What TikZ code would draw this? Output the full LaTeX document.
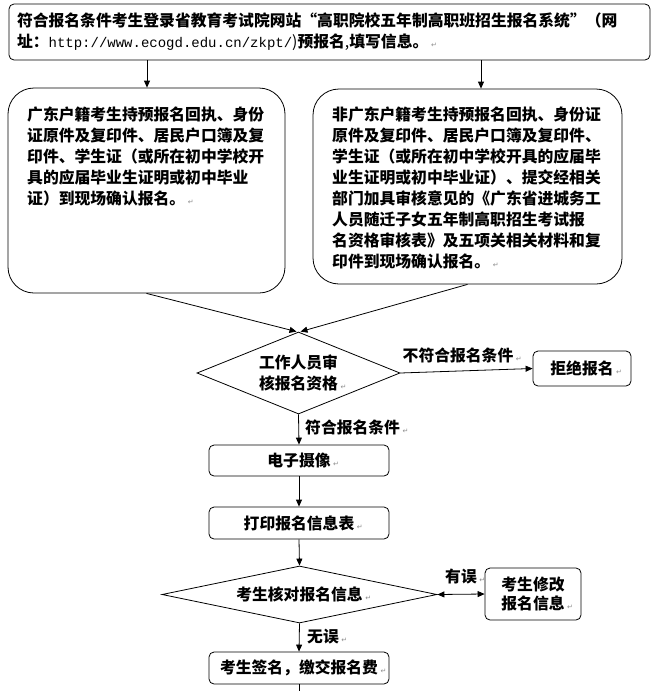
\documentclass[tikz,border=0pt]{standalone}
\usepackage{fontspec}
\setmainfont{Noto Sans CJK SC}
\newfontfamily\dejavu{DejaVu Sans}
\newfontfamily\urlfont{Liberation Mono}
\usetikzlibrary{arrows.meta,shapes.geometric}
\newcommand\parmk{\rlap{\,{\dejavu\mdseries\fontsize{7}{7}\selectfont\textcolor{black!45}{↵}}}}
\tikzset{
  every node/.style={font=\fontsize{15.8}{21}\selectfont\bfseries},
  box/.style={draw, line width=0.8pt, rounded corners=5pt, inner sep=0pt, align=center},
  bigbox/.style={draw, line width=0.8pt, rounded corners=26pt, inner sep=0pt},
  dia/.style={draw, diamond, line width=0.8pt, inner sep=0pt, align=left},
  arr/.style={line width=0.8pt, -{Triangle[length=7pt,width=6pt]}},
  arrboth/.style={line width=0.8pt, {Triangle[length=7pt,width=6pt]}-{Triangle[length=7pt,width=6pt]}},
  plain/.style={line width=0.8pt},
  lbl/.style={inner sep=0pt},
  txt/.style={align=left, inner sep=0pt}
}
\begin{document}
\begin{tikzpicture}[x=1pt,y=-1pt]
\useasboundingbox (0,0) rectangle (660,691);
% top box
\node[box, minimum width=641pt, minimum height=56pt, text width=625pt, align=left] (T) at (329.5,32)
 {符合报名条件考生登录省教育考试院网站“高职院校五年制高职班招生报名系统”（网\\
  址：{\mdseries\urlfont\fontsize{14}{21}\selectfont http://www.ecogd.edu.cn/zkpt/}{\mdseries )}预报名{\mdseries ,}填写信息。\parmk};
% left big box
\node[bigbox, minimum width=277pt, minimum height=205pt] (L) at (146.5,190.5) {};
\node[txt, anchor=north west] (Lt) at (27,107)
 {广东户籍考生持预报名回执、身份\\
  证原件及复印件、居民户口簿及复\\
  印件、学生证（或所在初中学校开\\
  具的应届毕业生证明或初中毕业\\
  证）到现场确认报名。\parmk};
% right big box
\node[bigbox, minimum width=309pt, minimum height=195pt] (R) at (467.5,186.5) {};
\node[txt, anchor=north west] (Rt) at (332,107)
 {非广东户籍考生持预报名回执、身份证\\
  原件及复印件、居民户口簿及复印件、\\
  学生证（或所在初中学校开具的应届毕\\
  业生证明或初中毕业证）、提交经相关\\
  部门加具审核意见的《广东省进城务工\\
  人员随迁子女五年制高职招生考试报\\
  名资格审核表》及五项关相关材料和复\\
  印件到现场确认报名。\parmk};
% decision 1
\node[dia, minimum width=203pt, minimum height=82pt, shape aspect=2.48] (D1) at (298.5,373)
 {工作人员审\\核报名资格\parmk};
\node[box, minimum width=98pt, minimum height=35pt] (Rj) at (582,368.5) {拒绝报名\parmk};
% process boxes
\node[box, minimum width=180pt, minimum height=31pt] (E) at (299,460.5) {电子摄像\parmk};
\node[box, minimum width=180pt, minimum height=32pt] (P) at (299,523) {打印报名信息表\parmk};
\node[dia, minimum width=275pt, minimum height=57pt, shape aspect=4.82] (D2) at (299.5,594.5)
 {考生核对报名信息\parmk};
\node[box, minimum width=96pt, minimum height=52pt, font=\fontsize{15.8}{19}\selectfont\bfseries] (M) at (533,594)
 {考生修改\\报名信息\parmk};
\node[box, minimum width=180pt, minimum height=32pt] (S) at (299,668) {考生签名，缴交报名费\parmk};
\coordinate (send) at (299,691);
% labels
\node[lbl] (l1) at (458,355) {不符合报名条件\parmk};
\node[lbl, anchor=west] (l2) at (305,427) {符合报名条件\parmk};
\node[lbl] (l3) at (461,577) {有误\parmk};
\node[lbl, anchor=west] (l4) at (307,637) {无误\parmk};
% connectors
\coordinate (a1) at (147,0);
\coordinate (a2) at (481,0);
\draw[arr] (a1 |- T.south) -- (a1 |- L.north);
\draw[arr] (a2 |- T.south) -- (a2 |- R.north);
\draw[arr] (L.south) -- ([xshift=-2pt]D1.north);
\draw[arr] (R.south) -- ([xshift=2pt]D1.north);
\draw[arr] (D1.east) -- (Rj.west);
\draw[arr] (D1.south) -- (E.north);
\draw[arr] (E.south) -- (P.north);
\draw[arr] (P.south) -- (D2.north);
\draw[arrboth] (D2.east) -- (M.west);
\draw[arr] (D2.south) -- (S.north);
\draw[plain] (S.south) -- (send);
\end{tikzpicture}
\end{document}
